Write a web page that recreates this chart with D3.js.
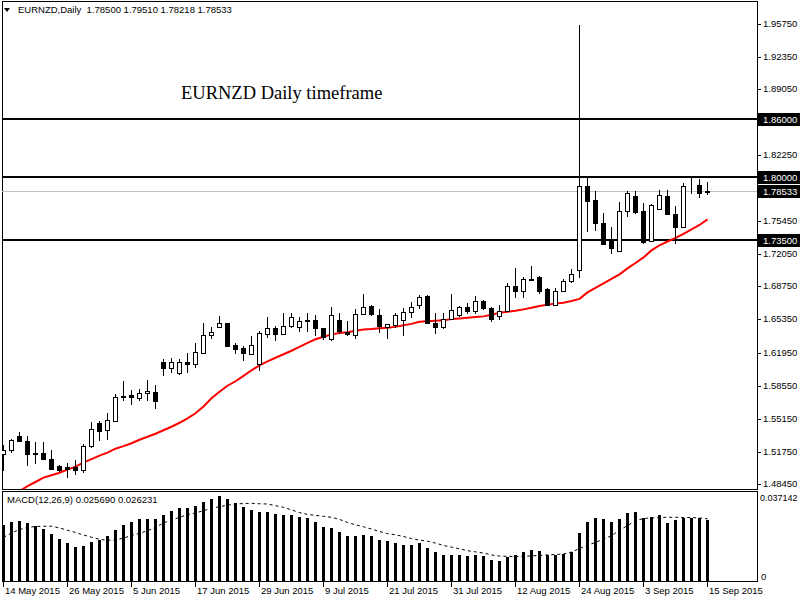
<!DOCTYPE html>
<html>
<head>
<meta charset="utf-8">
<script src="https://cdn.jsdelivr.net/npm/d3@7"></script>
<style>
  body { margin: 0; background: #fff; }
  svg text { font-family: "Liberation Sans", Arial, sans-serif; font-size: 9.5px; }
</style>
</head>
<body>
<div id="chart"></div>
<script>
const symbolTitle = "EURNZD,Daily";
const headerOHLC = "1.78500 1.79510 1.78218 1.78533";
const chartNote = "EURNZD Daily timeframe";

// daily bars 14 May 2015 .. 15 Sep 2015
const opens = [1.5153,1.5195,1.5339,1.5287,1.5164,1.5161,1.5099,1.5027,1.5017,1.5020,
  1.4986,1.5229,1.5472,1.5397,1.5493,1.5737,1.5753,1.5726,1.5778,1.5788,
  1.6100,1.6035,1.5989,1.6100,1.6076,1.6195,1.6374,1.6456,1.6501,1.6274,
  1.6243,1.6179,1.6079,1.6384,1.6446,1.6384,1.6467,1.6456,1.6528,1.6528,
  1.6446,1.6333,1.6528,1.6405,1.6374,1.6590,1.6672,1.6580,1.6456,1.6477,
  1.6528,1.6611,1.6683,1.6778,1.6501,1.6456,1.6539,1.6580,1.6662,1.6621,
  1.6724,1.6652,1.6569,1.6621,1.6878,1.6833,1.6953,1.6970,1.6847,1.6683,
  1.6826,1.6932,1.7046,1.7909,1.7765,1.7532,1.7354,1.7238,1.7655,1.7806,
  1.7649,1.7341,1.7676,1.7806,1.7621,1.7485,1.7909,1.7923,1.78500];
const highs = [1.5246,1.5308,1.5380,1.5339,1.5270,1.5270,1.5195,1.5040,1.5058,1.5092,
  1.5256,1.5475,1.5486,1.5575,1.5770,1.5901,1.5812,1.5819,1.5911,1.5860,
  1.6130,1.6138,1.6127,1.6195,1.6298,1.6501,1.6456,1.6573,1.6501,1.6292,
  1.6257,1.6360,1.6418,1.6559,1.6463,1.6600,1.6600,1.6559,1.6600,1.6583,
  1.6446,1.6662,1.6600,1.6518,1.6641,1.6799,1.6683,1.6641,1.6487,1.6606,
  1.6652,1.6713,1.6785,1.6788,1.6600,1.6600,1.6799,1.6672,1.6703,1.6778,
  1.6737,1.6662,1.6683,1.6915,1.7063,1.6970,1.7084,1.6984,1.6857,1.6857,
  1.6953,1.7053,1.9565,1.7999,1.7861,1.7635,1.7485,1.7742,1.7861,1.7855,
  1.7738,1.7724,1.7868,1.7868,1.7704,1.7937,1.8002,1.7984,1.79510];
const lows = [1.4989,1.5174,1.5284,1.5033,1.5058,1.5099,1.4996,1.4971,1.4914,1.4948,
  1.4965,1.5222,1.5290,1.5308,1.5493,1.5702,1.5668,1.5702,1.5702,1.5623,
  1.5959,1.5999,1.5976,1.5999,1.6051,1.6189,1.6343,1.6456,1.6261,1.6195,
  1.6120,1.6179,1.6017,1.6354,1.6319,1.6384,1.6456,1.6415,1.6415,1.6377,
  1.6333,1.6323,1.6395,1.6374,1.6343,1.6590,1.6580,1.6411,1.6343,1.6456,
  1.6374,1.6559,1.6652,1.6497,1.6395,1.6446,1.6539,1.6569,1.6606,1.6606,
  1.6641,1.6524,1.6539,1.6621,1.6771,1.6771,1.6940,1.6812,1.6683,1.6683,
  1.6826,1.6922,1.6977,1.7450,1.7457,1.7310,1.7223,1.7238,1.7601,1.7628,
  1.7320,1.7341,1.7676,1.7621,1.7320,1.7485,1.7834,1.7799,1.78218];
const closes = [1.5195,1.5294,1.5284,1.5150,1.5150,1.5099,1.4996,1.4989,1.4996,1.4982,
  1.5233,1.5407,1.5387,1.5500,1.5737,1.5743,1.5740,1.5778,1.5798,1.5691,
  1.6031,1.6096,1.6100,1.6076,1.6202,1.6377,1.6405,1.6501,1.6267,1.6236,
  1.6195,1.6271,1.6395,1.6446,1.6384,1.6467,1.6559,1.6518,1.6518,1.6446,
  1.6354,1.6580,1.6415,1.6384,1.6590,1.6662,1.6590,1.6467,1.6487,1.6580,
  1.6611,1.6662,1.6765,1.6497,1.6456,1.6539,1.6631,1.6662,1.6621,1.6724,
  1.6652,1.6539,1.6621,1.6878,1.6833,1.6953,1.6940,1.6833,1.6683,1.6826,
  1.6932,1.7001,1.7909,1.7758,1.7532,1.7310,1.7275,1.7649,1.7834,1.7642,
  1.7333,1.7711,1.7820,1.7621,1.7485,1.7909,1.7912,1.7840,1.78533];

// red moving average
const movingAvg = [1.4670,1.4722,1.4768,1.4819,1.4862,1.4907,1.4932,1.4958,1.4989,1.5020,
  1.5061,1.5097,1.5133,1.5164,1.5205,1.5231,1.5261,1.5297,1.5328,1.5359,
  1.5395,1.5431,1.5472,1.5518,1.5570,1.5640,1.5724,1.5791,1.5853,1.5899,
  1.5955,1.6012,1.6063,1.6104,1.6141,1.6177,1.6213,1.6254,1.6295,1.6331,
  1.6357,1.6382,1.6395,1.6403,1.6418,1.6431,1.6437,1.6446,1.6451,1.6459,
  1.6475,1.6490,1.6511,1.6517,1.6521,1.6526,1.6539,1.6545,1.6552,1.6560,
  1.6567,1.6583,1.6605,1.6614,1.6624,1.6639,1.6655,1.6673,1.6688,1.6700,
  1.6708,1.6725,1.6747,1.6814,1.6860,1.6907,1.6953,1.6999,1.7061,1.7117,
  1.7174,1.7246,1.7299,1.7338,1.7374,1.7416,1.7462,1.7508,1.7565];

const macdHist = [0.0236,0.0249,0.0253,0.0245,0.0232,0.0219,0.0198,0.0177,0.0160,0.0143,
  0.0148,0.0165,0.0173,0.0190,0.0215,0.0236,0.0249,0.0262,0.0262,0.0262,
  0.0279,0.0295,0.0308,0.0308,0.0317,0.0333,0.0346,0.0359,0.0346,0.0329,
  0.0312,0.0300,0.0291,0.0291,0.0283,0.0279,0.0279,0.0270,0.0266,0.0249,
  0.0228,0.0224,0.0207,0.0190,0.0190,0.0194,0.0190,0.0173,0.0167,0.0160,
  0.0152,0.0152,0.0162,0.0138,0.0124,0.0110,0.0110,0.0110,0.0106,0.0110,
  0.0106,0.0089,0.0084,0.0101,0.0110,0.0122,0.0131,0.0127,0.0110,0.0110,
  0.0114,0.0122,0.0204,0.0249,0.0266,0.0263,0.0249,0.0262,0.0287,0.0291,
  0.0266,0.0270,0.0279,0.0246,0.0257,0.0266,0.0266,0.0266,0.025690];
const macdSignal = [0.0184,0.0203,0.0217,0.0226,0.0230,0.0231,0.0231,0.0224,0.0214,0.0205,
  0.0194,0.0185,0.0176,0.0172,0.0173,0.0181,0.0192,0.0201,0.0212,0.0226,
  0.0245,0.0257,0.0269,0.0280,0.0287,0.0297,0.0306,0.0314,0.0320,0.0325,
  0.0327,0.0328,0.0326,0.0325,0.0318,0.0311,0.0300,0.0289,0.0281,0.0277,
  0.0273,0.0269,0.0260,0.0247,0.0237,0.0229,0.0219,0.0209,0.0200,0.0195,
  0.0188,0.0179,0.0173,0.0168,0.0160,0.0150,0.0143,0.0136,0.0128,0.0123,
  0.0118,0.0110,0.0105,0.0104,0.0103,0.0104,0.0106,0.0108,0.0110,0.0112,
  0.0114,0.0122,0.0137,0.0151,0.0163,0.0177,0.0191,0.0214,0.0234,0.0254,
  0.0264,0.0266,0.0268,0.0269,0.0269,0.0268,0.0268,0.0266,0.026231];
const macdLabel = "MACD(12,26,9) 0.025690 0.026231";
const macdMax = 0.037142;

const priceTicks = [1.95750,1.92350,1.89050,1.85650,1.82250,1.78850,1.75450,
  1.72050,1.68750,1.65350,1.61950,1.58550,1.55150,1.51750,1.48450];
const levels = [1.86000, 1.80000, 1.73500];
const dateLabels = ["14 May 2015","26 May 2015","5 Jun 2015","17 Jun 2015","29 Jun 2015",
  "9 Jul 2015","21 Jul 2015","31 Jul 2015","12 Aug 2015","24 Aug 2015","3 Sep 2015","15 Sep 2015"];
const barsPerDateLabel = 8;

const width = 800, height = 600;
const plotLeft = 2, plotRight = 757;
const mainTop = 1, mainBottom = 489;
const subTop = 491, subBottom = 581;

const svg = d3.select("#chart").append("svg")
  .attr("width", width).attr("height", height)
  .style("display", "block");

const x = d3.scaleLinear().domain([0, opens.length - 1]).range([3, 3 + 8 * (opens.length - 1)]);
const y = d3.scaleLinear().domain([1.4790, 1.97725]).range([mainBottom, mainTop + 4]);
const ym = d3.scaleLinear().domain([0, macdMax]).range([subBottom, subTop + 2]);
const px = (v) => Math.round(v) + 0.5;

const defs = svg.append("defs");
defs.append("clipPath").attr("id", "clipMain").append("rect")
  .attr("x", plotLeft).attr("y", mainTop).attr("width", plotRight - plotLeft).attr("height", mainBottom - mainTop);
defs.append("clipPath").attr("id", "clipSub").append("rect")
  .attr("x", plotLeft).attr("y", subTop).attr("width", plotRight - plotLeft).attr("height", subBottom - subTop);

// frames
svg.append("rect").attr("x", plotLeft + 0.5).attr("y", mainTop + 0.5)
  .attr("width", plotRight - plotLeft).attr("height", mainBottom - mainTop)
  .attr("fill", "none").attr("stroke", "#000");
svg.append("rect").attr("x", plotLeft + 0.5).attr("y", subTop + 0.5)
  .attr("width", plotRight - plotLeft).attr("height", subBottom - subTop)
  .attr("fill", "none").attr("stroke", "#000");

const main = svg.append("g").attr("clip-path", "url(#clipMain)");

// current price line
main.append("line")
  .attr("x1", plotLeft).attr("x2", plotRight)
  .attr("y1", px(y(closes[closes.length - 1]))).attr("y2", px(y(closes[closes.length - 1])))
  .attr("stroke", "#c0c0c0");

// support / resistance
main.append("g").selectAll("line").data(levels).join("line")
  .attr("x1", plotLeft).attr("x2", plotRight)
  .attr("y1", (d) => Math.round(y(d))).attr("y2", (d) => Math.round(y(d)))
  .attr("stroke", "#000").attr("stroke-width", 2);

main.append("text")
  .attr("x", 181).attr("y", 99)
  .style("font-family", "'Liberation Serif', 'Times New Roman', serif")
  .style("font-size", "18.5px")
  .text(chartNote);

// moving average
main.append("path")
  .datum(movingAvg)
  .attr("fill", "none").attr("stroke", "#ff0000").attr("stroke-width", 2)
  .attr("d", d3.line().x((d, i) => x(i) + 0.5).y((d) => y(d)));

// candles
const bars = opens.map((o, i) => ({ i, o, h: highs[i], l: lows[i], c: closes[i] }));
const candle = main.append("g").selectAll("g").data(bars).join("g");
candle.append("line")
  .attr("x1", (d) => px(x(d.i))).attr("x2", (d) => px(x(d.i)))
  .attr("y1", (d) => Math.round(y(d.h))).attr("y2", (d) => Math.round(y(d.l)) + 1)
  .attr("stroke", "#000");
candle.append("rect")
  .attr("x", (d) => Math.round(x(d.i)) - 1.5)
  .attr("y", (d) => px(y(Math.max(d.o, d.c))))
  .attr("width", 4)
  .attr("height", (d) => Math.round(y(Math.min(d.o, d.c))) - Math.round(y(Math.max(d.o, d.c))))
  .attr("fill", (d) => (d.c >= d.o ? "#fff" : "#000"))
  .attr("stroke", "#000");

// MACD panel
const sub = svg.append("g").attr("clip-path", "url(#clipSub)");
sub.append("g").selectAll("rect").data(macdHist).join("rect")
  .attr("x", (d, i) => Math.round(x(i)) - 1)
  .attr("y", (d) => Math.round(ym(d)))
  .attr("width", 3)
  .attr("height", (d) => subBottom - Math.round(ym(d)))
  .attr("fill", "#000");
sub.append("path")
  .datum(macdSignal)
  .attr("fill", "none").attr("stroke", "#000").attr("stroke-width", 1)
  .attr("stroke-dasharray", "3,3")
  .attr("d", d3.line().x((d, i) => x(i) + 0.5).y((d) => ym(d)));
svg.append("text").attr("x", 7).attr("y", 503).text(macdLabel);

// header
svg.append("path").attr("d", "M4,8L10,8L7,12Z").attr("fill", "#000");
svg.append("text").attr("x", 18).attr("y", 13)
  .text(symbolTitle + "  " + headerOHLC)
  .attr("xml:space", "preserve").style("white-space", "pre");

// right price axis
const axisG = svg.append("g");
priceTicks.forEach((t) => {
  const ty = Math.round(y(t));
  axisG.append("line").attr("x1", plotRight).attr("x2", plotRight + 4)
    .attr("y1", ty + 0.5).attr("y2", ty + 0.5).attr("stroke", "#000");
  axisG.append("text").attr("x", 763).attr("y", ty).attr("dy", "0.35em").text(t.toFixed(5));
});
const boxes = levels.concat([closes[closes.length - 1]]);
boxes.forEach((b) => {
  const by = Math.round(y(b));
  axisG.append("rect").attr("x", plotRight + 1).attr("y", by - 6)
    .attr("width", width - plotRight - 1).attr("height", 13).attr("fill", "#000");
  axisG.append("text").attr("x", 763).attr("y", by).attr("dy", "0.38em")
    .attr("fill", "#fff").text(b.toFixed(5));
});
axisG.append("text").attr("x", 760).attr("y", subTop + 7).attr("dy", "0.35em")
  .style("font-size", "9px").text(macdMax.toFixed(6));
axisG.append("text").attr("x", 761).attr("y", subBottom - 4).attr("dy", "0.35em").text("0");

// date axis
const dateG = svg.append("g");
dateLabels.forEach((lab, k) => {
  const dx = Math.round(x(k * barsPerDateLabel));
  dateG.append("line").attr("x1", dx + 0.5).attr("x2", dx + 0.5)
    .attr("y1", subBottom + 1).attr("y2", subBottom + 6).attr("stroke", "#000");
  dateG.append("text").attr("x", dx + 2).attr("y", 594).text(lab);
});
</script>
</body>
</html>
